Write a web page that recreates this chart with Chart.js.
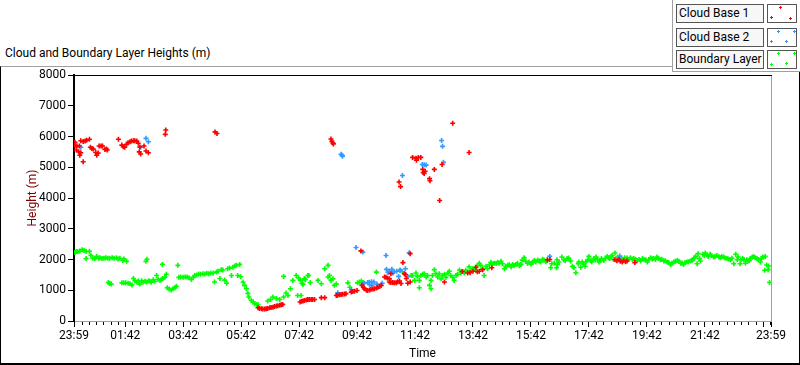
<!DOCTYPE html>
<html>
<head>
<meta charset="utf-8">
<script src="https://cdn.jsdelivr.net/npm/chart.js@4.4.0/dist/chart.umd.min.js"></script>
<style>
body { margin:0; width:800px; height:365px; background:#fff; position:relative; overflow:hidden; font-family:Roboto, sans-serif; }
#frame { position:absolute; left:0; top:66px; width:800px; height:299px; box-sizing:border-box; border-top:1px solid #a0a0a0; border-left:1px solid #000; border-right:1px solid #000; border-bottom:2px solid #000; }
#title { position:absolute; left:5px; top:46px; font-size:12px; color:#000; white-space:nowrap; }
canvas { position:absolute; left:0; top:0; }
#legend { position:absolute; left:672px; top:0; width:128px; height:72px; box-sizing:border-box; border-left:1px solid #a0a0a0; border-bottom:1px solid #a0a0a0; background:#fff; }
.lbl { position:absolute; left:3px; width:88px; height:19px; box-sizing:border-box; border:1px solid #555; background:#f7f7f7; font-size:12px; line-height:17px; padding-left:2px; white-space:nowrap; }
.ico { position:absolute; left:94px; width:30px; height:19px; box-sizing:border-box; border:1px solid #555; background:#fff; }
.pt { position:absolute; width:3px; height:3px; }
</style>
</head>
<body>
<div id="frame"></div>
<div id="title">Cloud and Boundary Layer Heights (m)</div>
<canvas id="myChart" width="800" height="365"></canvas>
<div id="legend"></div>
<script>
// x values are minutes from the start of the time axis, y values are heights in m
var timeLabels = ['23:59','01:42','03:42','05:42','07:42','09:42','11:42','13:42','15:42','17:42','19:42','21:42','23:59'];
var timeTicks = [0,106,226,346,466,586,706,826,946,1066,1186,1306,1443];
var heightTicks = [0,1000,2000,3000,4000,5000,6000,7000,8000];
var seriesNames = ['Cloud Base 1','Cloud Base 2','Boundary Layer'];

var cloudBase1 = [
  [2,5810],[2,5690],[5,5560],[6,5690],[10,5500],[11,5690],[12,5390],[14,5470],[14,5860],[19,5180],[19,5840],[23,5850],
  [26,5880],[32,5910],[34,5650],[37,5610],[40,5590],[45,5480],[47,5390],[50,5460],[52,5690],[56,5690],[59,5690],
  [64,5580],[67,5590],[69,5560],[92,5910],[99,5720],[102,5670],[105,5650],[109,5750],[112,5800],[116,5830],[119,5850],
  [123,5860],[126,5860],[130,5850],[133,5780],[135,5500],[136,5660],[138,5430],[145,5690],[149,5530],[154,5470],
  [189,6070],[190,6210],[292,6150],[296,6100],
  [381,430],[384,410],[388,400],[391,390],[395,390],[398,400],[401,410],[405,430],[408,440],[412,450],[415,470],
  [419,490],[422,500],[426,510],[429,530],[432,540],
  [468,620],[471,640],[474,650],[477,670],[481,680],[484,700],[487,700],[491,700],[494,700],[498,700],[512,760],[519,760],
  [532,5920],[534,5840],[536,5790],[537,5760],
  [543,830],[546,840],[550,850],[553,860],[556,870],[560,880],[563,890],[574,940],[577,960],[581,970],[586,990],
  [594,2280],[596,1160],[599,1100],[601,1050],[605,1010],[608,990],[612,1010],[615,1030],[619,1040],[622,1050],
  [626,1070],[629,1100],[633,1120],[636,1160],
  [643,1430],[646,1420],[649,1390],[653,1370],[653,1270],[656,1540],[656,1250],[660,1250],[663,1240],[667,1240],
  [670,1280],[673,4520],[674,1300],[676,4370],[677,1220],[681,1900],[684,1540],[686,1510],[688,1380],[691,1230],
  [696,1270],[696,2190],
  [701,5320],[708,5290],[709,5230],[713,5320],[718,5320],[722,4930],[723,4830],[725,4800],[727,4870],[736,4630],
  [737,4560],[746,4930],[757,3920],[762,5090],[767,1270],[784,6430],
  [804,1610],[815,1560],[818,5480],[820,1570],[826,1620],[832,1750],[835,1600],[839,1620],[846,1670],[865,1730],
  [980,1990],[985,2000],[1120,1990],[1124,1960],[1128,2000],[1131,1940],[1135,1920],[1138,1960],[1142,1930],
  [1145,1950],[1161,1900]
];

var cloudBase2 = [
  [14,5650],[138,5650],[149,5940],[154,5830],[546,920],[553,5420],[555,5390],[556,5360],[574,1020],[584,2390],
  [598,2240],[598,1200],[601,1230],[608,1250],[611,1260],[612,1180],[616,1280],[617,1160],[621,1270],[627,1200],
  [638,1230],[646,2130],[647,1680],[650,1580],[653,1620],[658,1680],[660,1560],[663,1600],[668,1620],[672,1450],
  [676,1650],[680,4730],[686,1700],[691,1450],[694,2220],[721,5090],[725,5080],[729,5070],[761,5870],[763,5680],
  [765,5160],[985,2100],[1130,2110]
];

var boundaryLayer = [
  [2,2230],[5,2260],[8,2250],[12,2280],[17,2320],[21,2290],[25,2260],[25,2030],[32,2270],[35,2140],[39,2040],
  [43,2030],[47,2100],[51,2040],[54,2060],[58,2030],[62,2040],[66,2060],[70,2040],[71,1250],[74,2040],[74,1220],
  [77,1200],[79,2060],[83,2040],[88,2060],[91,2020],[95,2040],[99,1240],[101,1970],[103,2020],[103,1240],[107,1240],
  [109,1940],[112,1230],[116,1210],[120,1170],[123,1380],[126,1310],[130,1270],[133,1300],[136,1200],[140,1310],
  [143,1260],[147,1290],[149,1940],[150,1270],[151,2010],[154,1300],[157,1300],[160,1260],[164,1340],[167,1290],
  [171,1480],[174,1360],[178,1320],[181,1360],[183,1840],[184,1380],[188,1420],[191,1520],[193,1080],[197,1040],
  [201,1010],[205,1050],[209,1080],[212,1130],[215,1810],[217,1420],[221,1430],[226,1420],[230,1430],[234,1430],
  [238,1410],[243,1350],[247,1420],[250,1480],[254,1500],[258,1530],[262,1520],[267,1540],[271,1530],[275,1550],
  [279,1540],[283,1560],[288,1560],[291,1270],[295,1590],[298,1620],[302,1380],[305,1670],[308,1660],[312,1330],
  [316,1230],[318,1700],[322,1720],[326,1480],[329,1750],[333,1790],[336,1810],[339,1480],[343,1840],[345,1440],
  [350,1270],[353,1160],[357,1050],[360,900],[362,780],[367,670],[371,620],[374,560],[378,540],[381,530],
  [401,650],[407,700],[412,780],[419,730],[426,700],[434,780],[434,1450],[439,910],[443,830],[448,1050],[453,1320],
  [460,1480],[463,830],[465,1400],[469,1330],[470,830],[472,1230],[474,1190],[477,1380],[479,1340],[484,1480],
  [486,1480],[489,1250],[505,1320],[512,1210],[519,1700],[526,1810],[526,1430],[529,1480],[532,1320],[536,1370],
  [539,1160],[543,1200],[567,1240],[571,1100],[587,1240],[591,1270],[595,1300],[598,1250],[626,1590],[674,1650],
  [680,1600],
  [698,1480],[701,1480],[705,1320],[708,1560],[711,1450],[715,1320],[715,1080],[718,1480],[722,1520],[725,1540],
  [729,1430],[732,1480],[736,1160],[739,1050],[739,1320],[742,1480],[746,1670],[749,1540],[753,1430],[756,1540],
  [760,1370],[763,1480],[767,1520],[770,1420],[774,1560],[777,1620],[780,1480],[784,1420],[787,1320],[791,1480],
  [794,1520],[798,1660],[801,1560],[804,1610],[808,1560],[811,1650],[815,1600],[818,1760],[822,1640],[825,1700],
  [829,1700],[832,1640],[835,1800],[839,1880],[842,1810],[846,1700],[849,1480],[853,1780],[856,1700],[860,1830],
  [863,1910],[867,1860],[870,1880],[874,1870],[877,1910],[880,1880],[884,1940],[887,1860],[891,1700],[894,1780],
  [898,1810],[901,1830],[905,1760],[908,1840],[911,1800],[915,1840],[918,1880],[922,1800],[925,1840],[928,1980],
  [932,2060],[935,1940],[939,1870],[942,1920],[946,1850],[949,1900],[953,1970],[956,1920],[960,1980],[963,1950],
  [966,1920],[970,2010],[973,1980],[977,1930],[980,1970],[987,1730],[989,1860],[994,1880],[999,1730],[1000,1990],
  [1001,1840],[1004,1920],[1010,2080],[1014,1990],[1017,1960],[1021,2030],[1024,2050],[1028,1950],[1032,1780],
  [1035,1730],[1039,1570],[1044,1860],[1045,1920],[1049,1750],[1052,1920],[1055,1850],[1058,1780],[1060,1920],
  [1063,1980],[1066,2100],[1070,1960],[1072,1920],[1076,2030],[1079,1990],[1081,2080],[1084,2000],[1087,1920],
  [1090,1960],[1092,2030],[1097,1970],[1100,2040],[1104,2100],[1107,2060],[1109,2030],[1112,2090],[1114,2130],
  [1117,2000],[1120,2210],[1125,2080],[1133,2030],[1140,2060],[1145,2050],[1148,2000],[1152,2060],[1156,2010],
  [1159,2030],[1163,2000],[1166,1970],[1170,2000],[1173,1950],[1177,2030],[1180,1990],[1184,1990],[1187,1920],
  [1190,2000],[1194,2060],[1197,2020],[1200,2030],[1204,2000],[1207,2080],[1210,2040],[1214,1990],[1217,2010],
  [1221,1950],[1224,1960],[1228,1920],[1231,1900],[1235,1840],[1238,1880],[1242,1920],[1245,1940],[1249,1970],
  [1252,1940],[1256,1880],[1259,1890],[1262,1840],[1265,1900],[1269,1920],[1272,1930],[1276,1950],[1279,1970],
  [1281,1990],[1284,2050],[1287,2100],[1290,1860],[1292,2190],[1295,2030],[1297,1950],[1302,2170],[1305,2130],
  [1307,2210],[1310,2150],[1313,2100],[1317,2170],[1320,2120],[1324,2080],[1327,2100],[1331,2130],[1335,2090],
  [1338,2060],[1341,2100],[1345,2080],[1348,2050],[1352,2030],[1355,2020],[1359,1990],[1362,2040],[1366,1860],
  [1370,2170],[1373,1990],[1375,2080],[1379,1860],[1381,1990],[1384,2030],[1387,2000],[1390,1880],[1393,1990],
  [1395,1950],[1398,1960],[1400,2030],[1404,2070],[1407,2100],[1410,2060],[1414,2030],[1417,2000],[1421,1920],
  [1423,2030],[1426,2080],[1430,1650],[1431,2100],[1434,1820],[1437,1670],[1438,1790],[1440,1250]
];

var colors = ['#ff0000', '#3399ff', '#00ff00'];
Chart.defaults.font.family = 'Roboto, sans-serif';
Chart.defaults.font.size = 12;
Chart.defaults.color = '#000';

function makeDataset(name, points, color) {
  return {
    label: name,
    data: points.map(p => ({x: p[0], y: p[1]})),
    pointStyle: 'cross',
    pointRadius: 2.5,
    pointBorderWidth: 1.6,
    borderColor: color,
    backgroundColor: color,
    showLine: false
  };
}

// plot frame plus minor ticks every 15 min and an unlabelled major every 2 h
var framePlugin = {
  id: 'frame',
  afterDraw(chart) {
    var ctx = chart.ctx, a = chart.chartArea, x = chart.scales.x;
    ctx.save();
    ctx.strokeStyle = '#000';
    ctx.lineWidth = 1;
    ctx.beginPath();
    ctx.moveTo(a.left, a.top + 0.5);
    ctx.lineTo(a.right + 1, a.top + 0.5);
    ctx.stroke();
    ctx.strokeStyle = '#a0a0a0';
    ctx.beginPath();
    ctx.moveTo(a.right + 0.5, a.top + 1);
    ctx.lineTo(a.right + 0.5, a.bottom);
    ctx.stroke();
    ctx.strokeStyle = '#000';
    ctx.beginPath();
    for (var v = timeTicks[1] % 15; v <= x.max; v += 15) {
      if (timeTicks.indexOf(v) >= 0) continue;
      var px = Math.round(x.getPixelForValue(v)) + 0.5;
      var len = (v - timeTicks[1]) % 120 === 0 ? 6 : 4;
      ctx.moveTo(px, a.bottom + 1);
      ctx.lineTo(px, a.bottom + len);
    }
    ctx.stroke();
    ctx.restore();
  }
};

var myChart = new Chart(document.getElementById('myChart'), {
  type: 'scatter',
  data: {
    datasets: [
      makeDataset(seriesNames[0], cloudBase1, colors[0]),
      makeDataset(seriesNames[1], cloudBase2, colors[1]),
      makeDataset(seriesNames[2], boundaryLayer, colors[2])
    ]
  },
  options: {
    responsive: false,
    animation: false,
    devicePixelRatio: 1,
    layout: { padding: { left: 20, top: 75, right: 29, bottom: 0 } },
    plugins: { legend: { display: false }, tooltip: { enabled: false } },
    scales: {
      x: {
        type: 'linear',
        min: 0,
        max: timeTicks[timeTicks.length - 1],
        afterBuildTicks: s => { s.ticks = timeTicks.map(v => ({value: v})); },
        afterFit: s => { s.height = 44; },
        ticks: { autoSkip: false, maxRotation: 0, padding: 2, color: '#000',
          callback: (v, i) => timeLabels[i] },
        grid: { drawOnChartArea: false, tickLength: 6, tickColor: '#000' },
        border: { color: '#a0a0a0', width: 1 },
        title: { display: true, text: 'Time', color: '#000', padding: { top: 0, bottom: 4 } }
      },
      y: {
        min: 0,
        max: heightTicks[heightTicks.length - 1],
        afterBuildTicks: s => { s.ticks = heightTicks.map(v => ({value: v})); },
        afterFit: s => { s.width = 54; },
        ticks: { padding: 2, color: '#000', callback: (v) => String(v) },
        grid: { drawOnChartArea: false, tickLength: 6, tickColor: '#000' },
        border: { color: '#000', width: 2 },
        title: { display: true, text: 'Height (m)', color: '#800000', padding: { top: 6, bottom: 0 } }
      }
    }
  },
  plugins: [framePlugin]
});

// legend boxes, drawn like the instrument panel
var markerSpots = [
  [[12,2],[3,12],[22,13]],
  [[10,2],[26,2],[3,12],[18,12]],
  [[10,2],[26,2],[3,13],[18,12]]
];
var legend = document.getElementById('legend');
var rowTops = [4, 28, 50];
seriesNames.forEach(function(name, i) {
  var lbl = document.createElement('div');
  lbl.className = 'lbl';
  lbl.style.top = rowTops[i] + 'px';
  lbl.textContent = name;
  legend.appendChild(lbl);
  var ico = document.createElement('div');
  ico.className = 'ico';
  ico.style.top = rowTops[i] + 'px';
  markerSpots[i].forEach(function(s) {
    var p = document.createElement('div');
    p.className = 'pt';
    p.style.left = (s[0] - 1) + 'px';
    p.style.top = (s[1] - 1) + 'px';
    p.style.background = 'linear-gradient(' + colors[i] + ',' + colors[i] + ') center/3px 1px no-repeat, linear-gradient(' + colors[i] + ',' + colors[i] + ') center/1px 3px no-repeat';
    ico.appendChild(p);
  });
  legend.appendChild(ico);
});
</script>
</body>
</html>
